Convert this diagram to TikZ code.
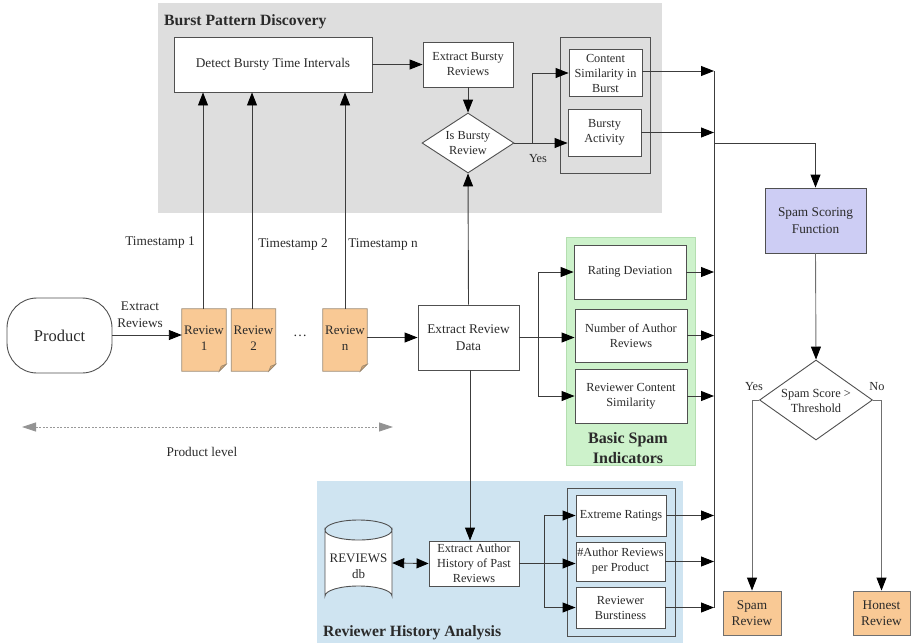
\documentclass[tikz,border=0pt]{standalone}
\usepackage{fontspec}
\setmainfont{Liberation Serif}
\usetikzlibrary{arrows.meta,shapes.geometric,calc}

\definecolor{burstbg}{HTML}{DEDEDE}
\definecolor{basicbg}{HTML}{CDF2CB}
\definecolor{basicedge}{HTML}{B4DEB0}
\definecolor{histbg}{HTML}{CFE4F1}
\definecolor{scorefill}{HTML}{CDCDF4}
\definecolor{docfill}{HTML}{F9C995}
\definecolor{docedge}{HTML}{9C8A72}
\definecolor{docfold}{HTML}{D9A56E}
\definecolor{ink}{HTML}{2A2A2A}
\definecolor{edge}{HTML}{505050}
\definecolor{wire}{HTML}{3C3C3C}
\definecolor{softwire}{HTML}{707070}

\newcommand{\fsz}[2]{\fontsize{#1}{#2}\selectfont}

\tikzset{
  txt/.style={text=ink, align=center, inner sep=0pt, font=\fsz{12.3}{15}},
  bigtxt/.style={font=\fsz{13.3}{16.5}},
  box/.style={draw=edge, fill=white, line width=0.9pt, txt},
  dmd/.style={draw=edge, fill=white, line width=0.9pt, diamond, inner sep=0pt},
  panel/.style={draw=none, inner sep=0pt},
  title/.style={text=ink, inner sep=0pt, font=\bfseries\fsz{15.7}{19}},
  arr/.style={draw=wire, line width=0.9pt, -{Triangle[length=13pt,width=10pt,color=black]}},
  darr/.style={draw=wire, line width=0.9pt, {Triangle[length=12pt,width=10pt,color=black]}-{Triangle[length=12pt,width=10pt,color=black]}},
  garr/.style={draw=softwire, line width=0.9pt, -{Triangle[length=13pt,width=10pt,color=black]}},
  wire/.style={draw=wire, line width=0.9pt},
  doc/.style={minimum width=44pt, minimum height=62pt, inner sep=0pt},
  doctext/.style={txt, font=\fsz{13}{16}},
}

\begin{document}
\begin{tikzpicture}[x=1pt,y=-1pt]
\useasboundingbox (0,0) rectangle (912,643);

% ---------- background panels ----------
\node[panel, fill=burstbg, minimum width=504pt, minimum height=210pt] (burstpanel) at (410,108) {};
\node[panel, fill=basicbg, draw=basicedge, line width=0.8pt, minimum width=129pt, minimum height=228pt] (basicpanel) at (630.5,351) {};
\node[panel, fill=histbg, minimum width=366pt, minimum height=162pt] (histpanel) at (500,562) {};

\node[title, anchor=west] (bursttitle) at (164,22) {Burst Pattern Discovery};
\node[title, anchor=west] (histtitle) at (323,633) {Reviewer History Analysis};
\node[title, align=center, font=\bfseries\fsz{16}{20}] (basictitle) at (628,448) {Basic Spam\\Indicators};

% ---------- burst pattern discovery ----------
\node[box, bigtxt, minimum width=198pt, minimum height=55pt] (detect) at (273,64.5) {Detect Bursty Time Intervals};
\node[box, minimum width=90pt, minimum height=45pt] (exb) at (468,64.5) {Extract Bursty\\Reviews};
\node[dmd, minimum width=92pt, minimum height=60pt] (isb) at (468,143) {};
\node[txt] (isbtext) at (isb) {Is Bursty\\Review};
\node[box, fill=none, minimum width=90pt, minimum height=136pt] (burstgroup) at (605,105) {};
\node[box, minimum width=73pt, minimum height=47pt] (csb) at (605.5,73) {Content\\Similarity in\\Burst};
\node[box, minimum width=73pt, minimum height=47pt] (bact) at (604.5,132.5) {Bursty\\Activity};
\node[txt] (yes1) at (538,159) {Yes};

% ---------- product and reviews ----------
\node[draw=edge, line width=0.9pt, rounded corners=30pt, minimum width=105pt, minimum height=75pt, txt, font=\fsz{16.5}{20}] (product) at (59.5,335.5) {Product};
\node[txt, font=\fsz{13.2}{16.5}] (extractlbl) at (140,314.5) {Extract\\Reviews};

% review documents with a folded corner
\node[doc] (r1) at (204,340) {};
\node[doc] (r2) at (253.5,340) {};
\node[doc] (rn) at (345,340) {};
\foreach \d in {r1,r2,rn}{
  \draw[draw=docedge, fill=docfill, line width=0.8pt]
    (\d.north west) -- (\d.north east) -- ($(\d.south east)+(0,-7)$)
    -- ($(\d.south east)+(-7,0)$) -- (\d.south west) -- cycle;
  \draw[draw=docedge, fill=docfold, line width=0.6pt]
    ($(\d.south east)+(0,-7)$) -- ($(\d.south east)+(-7,0)$) -- ($(\d.south east)+(-5,-5)$) -- cycle;
}
\node[doctext] (r1t) at (204,338) {Review\\1};
\node[doctext] (r2t) at (253.5,338) {Review\\2};
\node[doctext] (rnt) at (345,338) {Review\\n};
\node[txt, font=\fsz{14}{16}] (dots) at (300,336) {\dots};

\node[txt, bigtxt] (ts1) at (160,243) {Timestamp 1};
\node[txt, bigtxt] (ts2) at (293,245) {Timestamp 2};
\node[txt, bigtxt] (tsn) at (383,245) {Timestamp n};

% product level span
\coordinate (plA) at (22,427);
\coordinate (plB) at (393,427);
\draw[draw=gray!80, line width=0.8pt, dash pattern=on 2pt off 1.5pt,
  {Triangle[length=14pt,width=9pt,color=gray!85]}-{Triangle[length=14pt,width=9pt,color=gray!85]}] (plA) -- (plB);
\node[txt, bigtxt] (pllbl) at (202,452) {Product level};

% ---------- basic spam indicators ----------
\node[box, bigtxt, minimum width=101pt, minimum height=65pt] (erd) at (468.5,337.5) {Extract Review\\Data};
\node[box, minimum width=112pt, minimum height=54pt] (rd) at (630,272) {Rating Deviation};
\node[box, minimum width=112pt, minimum height=53pt] (nar) at (631,335.5) {Number of Author\\Reviews};
\node[box, minimum width=112pt, minimum height=54pt] (rcs) at (631,396) {Reviewer Content\\Similarity};

% ---------- reviewer history analysis ----------
\node[minimum width=67pt, minimum height=86pt, inner sep=0pt] (db) at (358.5,563) {};
\draw[draw=edge, fill=white, line width=0.9pt]
  (325,530) -- (325,596) arc[start angle=180, end angle=0, x radius=33.5pt, y radius=10pt]
  -- (392,530) arc[start angle=0, end angle=-180, x radius=33.5pt, y radius=10pt] -- cycle;
\draw[draw=edge, line width=0.9pt] (325,530) arc[start angle=180, end angle=0, x radius=33.5pt, y radius=10pt];
\node[txt, font=\fsz{13}{16}] (dbtext) at (358.5,566) {REVIEWS\\db};

\node[box, minimum width=90pt, minimum height=45pt] (eah) at (474,563.5) {Extract Author\\History of Past\\Reviews};
\node[box, fill=none, minimum width=108pt, minimum height=148pt] (histgroup) at (621,562) {};
\node[box, minimum width=90pt, minimum height=41pt] (er) at (621,515.5) {Extreme Ratings};
\node[box, minimum width=89pt, minimum height=39pt] (ar) at (620.5,561.5) {\#Author Reviews\\per Product};
\node[box, minimum width=89pt, minimum height=41pt] (rb) at (620.5,607.5) {Reviewer\\Burstiness};

% ---------- scoring ----------
\node[box, bigtxt, fill=scorefill, minimum width=101pt, minimum height=65pt] (score) at (815.5,220.5) {Spam Scoring\\Function};
\node[dmd, minimum width=113pt, minimum height=80pt] (thr) at (816,400) {};
\node[txt, font=\fsz{12.4}{15}] (thrtext) at (816,400.5) {Spam Score >\\Threshold};
\node[box, bigtxt, fill=docfill, draw=softwire, minimum width=58pt, minimum height=44pt] (spam) at (752,613) {Spam\\Review};
\node[box, bigtxt, fill=docfill, draw=softwire, minimum width=57pt, minimum height=44pt] (honest) at (881.5,613) {Honest\\Review};
\node[txt] (yes2) at (754,387) {Yes};
\node[txt] (no2) at (877,387) {No};

% ---------- connectors ----------
\draw[arr] (detect.east) -- (exb.west);
\draw[arr] (exb.south) -- (isb.north);
\draw[arr] (isb.east) -- ++(18,0) |- (csb.west);
\draw[arr] (isb.east) -- (isb.east -| bact.west);

\draw[arr] (product.east |- 0,335) -- (r1.west |- 0,335);
\draw[arr] (r1.north -| 203,0) -- (detect.south -| 203,0);
\draw[arr] (r2.north -| 252,0) -- (detect.south -| 252,0);
\draw[arr] (rn.north) -- (detect.south -| rn.north);
\draw[arr] (rn.east |- erd.west) -- (erd.west);

\draw[arr] (erd.north) -- (isb.south);
\draw[arr] (erd.east) -- ++(19,0) |- (rd.west);
\draw[arr] (erd.east) -- (erd.east -| nar.west);
\draw[arr] (erd.east) -- ++(19,0) |- (rcs.west);

\draw[arr] (erd.south -| 470,0) -- (eah.north -| 470,0);
\draw[darr] (db.east) -- (eah.west);
\draw[arr] (eah.east) -- ++(25,0) |- (er.west);
\draw[arr] (eah.east) -- (eah.east -| ar.west);
\draw[arr] (eah.east) -- ++(25,0) |- (rb.west);

% collecting bus
\coordinate (bustop) at (714,71);
\coordinate (busbot) at (714,608);
\coordinate (busout) at (714,143);
\draw[wire] (bustop) -- (busbot);
\draw[arr] (csb.east |- bustop) -- (bustop);
\draw[arr] (bact.east) -- (bact.east -| bustop);
\draw[arr] (rd.east) -- (rd.east -| bustop);
\draw[arr] (nar.east) -- (nar.east -| bustop);
\draw[arr] (rcs.east) -- (rcs.east -| bustop);
\draw[arr] (er.east) -- (er.east -| bustop);
\draw[arr] (ar.east) -- (ar.east -| bustop);
\draw[arr] (rb.east) -- (rb.east -| bustop);
\draw[arr] (busout) -| (score.north);

\draw[garr] (score.south) -- (thr.north);
\draw[garr] (thr.west) -| (spam.north);
\draw[garr] (thr.east) -| (honest.north);
\end{tikzpicture}
\end{document}
